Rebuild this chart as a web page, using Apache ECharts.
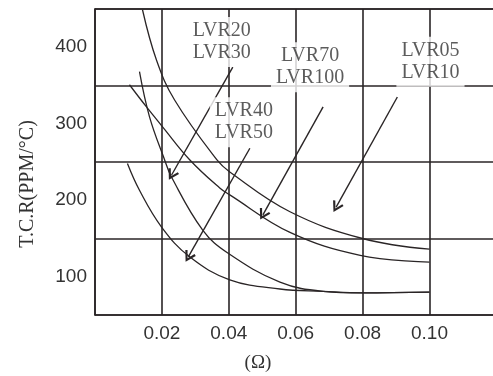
<!DOCTYPE html>
<html>
<head>
<meta charset="utf-8">
<script src="https://cdn.jsdelivr.net/npm/echarts@6/dist/echarts.min.js"></script>
<style>
  html, body { margin: 0; padding: 0; background: #fff; }
  #chart { width: 493px; height: 376px; }
</style>
</head>
<body>
<div id="chart"></div>
<script>
// curves, [ohm, ppm/°C]
const lvr05 = [[0.0142, 449], [0.0184, 383], [0.0238, 331], [0.0364, 253], [0.0403, 237], [0.0583, 185], [0.08, 150], [0.10, 136]]
const lvr70 = [[0.0103, 351], [0.0154, 322], [0.0202, 296], [0.0283, 253], [0.0373, 216], [0.0403, 207], [0.0583, 158], [0.0793, 128], [0.10, 119]]
const lvr20 = [[0.0133, 368], [0.0163, 309], [0.0208, 253], [0.0229, 230], [0.0322, 161], [0.0397, 131], [0.0553, 93], [0.0682, 81], [0.08, 79], [0.10, 80]]
const lvr40 = [[0.0097, 248], [0.0133, 213], [0.0199, 165], [0.0283, 126], [0.0403, 96], [0.0553, 84], [0.0682, 81], [0.08, 79], [0.10, 80]]

const labelText = ['LVR05\nLVR10', 'LVR70\nLVR100', 'LVR20\nLVR30', 'LVR40\nLVR50']
const labelPos = [[0.1003, 381], [0.0643, 374], [0.0379, 407], [0.0445, 302]]
const arrowFrom = [[0.0904, 335], [0.0682, 322], [0.0412, 374], [0.0463, 268]]
const arrowTo = [[0.0721, 191], [0.0502, 181], [0.0229, 233], [0.0279, 126]]

const xTickLabels = ['0.02', '0.04', '0.06', '0.08', '0.10']
const yTickLabels = ['100', '200', '300', '400']

const ink = '#2a2526'
const chevron = 'path://M0,10 L6,0 L12,10 L10,11 L6,4 L2,11 Z'

const chart = echarts.init(document.getElementById('chart'))

function curve(data) {
  return {
    type: 'line',
    data: data,
    smooth: 0.4,
    showSymbol: false,
    silent: true,
    lineStyle: { color: ink, width: 1.3 },
    z: 3,
  }
}

const option = {
  animation: false,
  grid: { left: 95, right: 0, top: 9, bottom: 61 },
  graphic: [
    {
      type: 'text',
      x: 28,
      y: 184,
      rotation: Math.PI / 2,
      style: {
        text: 'T.C.R(PPM/°C)',
        fontFamily: 'Liberation Serif',
        fontSize: 20,
        fill: '#333',
        textAlign: 'center',
        textVerticalAlign: 'middle',
      },
    },
    {
      type: 'text',
      x: 258,
      y: 363,
      style: {
        text: '(Ω)',
        fontFamily: 'Liberation Serif',
        fontSize: 19,
        fill: '#333',
        textAlign: 'center',
        textVerticalAlign: 'middle',
      },
    },
  ],
  xAxis: [
    {
      type: 'value',
      min: 0,
      max: 0.119,
      interval: 0.02,
      axisLine: { show: true, lineStyle: { color: ink, width: 1.6 } },
      axisTick: { show: false },
      splitLine: { show: true, showMaxLine: false, lineStyle: { color: ink, width: 1.6 } },
      axisLabel: {
        margin: 9,
        fontFamily: 'Liberation Sans',
        fontSize: 19,
        color: '#333',
        showMaxLabel: false,
        formatter: (v) => {
          const s = v.toFixed(2)
          return xTickLabels.includes(s) ? s : ''
        },
      },
    },
    {
      type: 'value',
      position: 'top',
      min: 0,
      max: 0.119,
      axisLine: { show: true, onZero: false, lineStyle: { color: ink, width: 1.6 } },
      axisTick: { show: false },
      axisLabel: { show: false },
      splitLine: { show: false },
    },
  ],
  yAxis: [
    {
      type: 'value',
      min: 50,
      max: 450,
      interval: 100,
      axisLine: { show: true, lineStyle: { color: ink, width: 1.6 } },
      axisTick: { show: false },
      axisLabel: { show: false },
      splitLine: { show: true, lineStyle: { color: ink, width: 1.6 } },
    },
    {
      type: 'value',
      position: 'left',
      min: 50,
      max: 450,
      interval: 50,
      axisLine: { show: false },
      axisTick: { show: false },
      splitLine: { show: false },
      axisLabel: {
        margin: 8,
        fontFamily: 'Liberation Sans',
        fontSize: 19,
        color: '#333',
        formatter: (v) => (yTickLabels.includes(String(v)) ? String(v) : ''),
      },
    },
  ],
  series: [
    curve(lvr05),
    curve(lvr70),
    curve(lvr20),
    curve(lvr40),
    {
      type: 'scatter',
      symbolSize: 0,
      silent: true,
      z: 5,
      data: labelPos.map((p, i) => ({ value: p, name: labelText[i] })),
      label: {
        show: true,
        position: 'inside',
        formatter: (p) => p.name,
        fontFamily: 'Liberation Serif',
        fontSize: 20,
        lineHeight: 22,
        color: '#333',
        backgroundColor: '#fff',
        padding: [3, 5, 3, 5],
      },
      markLine: {
        silent: true,
        symbol: ['none', chevron],
        symbolSize: [12, 11],
        label: { show: false },
        lineStyle: { color: ink, width: 1.4, type: 'solid' },
        data: arrowFrom.map((p, i) => [{ coord: p }, { coord: arrowTo[i] }]),
      },
    },
  ],
}

chart.setOption(option)
</script>
</body>
</html>
